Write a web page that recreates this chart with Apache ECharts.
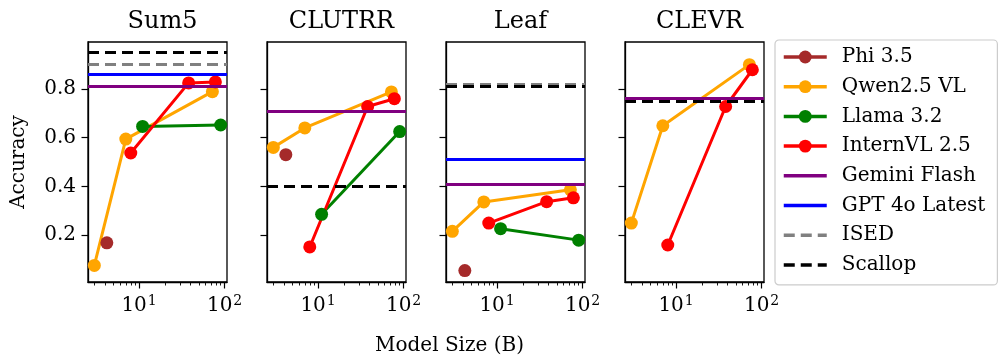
<!DOCTYPE html>
<html><head><meta charset="utf-8">
<script src="https://cdn.jsdelivr.net/npm/echarts@6/dist/echarts.min.js"></script>
<style>html,body{margin:0;padding:0;background:#fff}#c{width:1000px;height:364px}</style>
</head><body><div id="c"></div>
<script>
// ---- data ----
const PANELS = ['Sum5', 'CLUTRR', 'Leaf', 'CLEVR'];
const MODEL_NAMES = ['Phi 3.5', 'Qwen2.5 VL', 'Llama 3.2', 'InternVL 2.5'];
const REF_NAMES = ['Gemini Flash', 'GPT 4o Latest', 'ISED', 'Scallop'];
// model sizes (B)
const SIZE_PHI = [4.2];
const SIZE_QWEN = [3, 7, 72];
const SIZE_LLAMA = [11, 90];
const SIZE_INTERN = [8, 38, 78];
// accuracies per panel (Sum5, CLUTRR, Leaf, CLEVR)
const ACC_PHI = [[0.168], [0.530], [0.054], []];
const ACC_QWEN = [[0.075, 0.594, 0.789], [0.560, 0.640, 0.788], [0.215, 0.336, 0.386], [0.249, 0.649, 0.900]];
const ACC_LLAMA = [[0.646, 0.652], [0.285, 0.625], [0.226, 0.179], []];
const ACC_INTERN = [[0.537, 0.825, 0.829], [0.151, 0.728, 0.760], [0.249, 0.337, 0.353], [0.159, 0.728, 0.879]];
// horizontal reference accuracies
const ACC_GEMINI = [0.812, 0.711, 0.405, 0.763];
const ACC_GPT = [0.859, null, 0.508, null];
const ACC_ISED = [0.900, null, 0.822, null];
const ACC_SCALLOP = [0.950, 0.401, 0.809, 0.752];
// ticks
const X_MAJOR_TICKS = [10, 100];
const X_MINOR_TICKS = [3, 4, 5, 6, 7, 8, 9, 20, 30, 40, 50, 60, 70, 80, 90];
const Y_TICKS = [0.2, 0.4, 0.6, 0.8];

// ---- styling / layout ----
const FONT = 'DejaVu Serif';
const COLORS = {
  'Phi 3.5': '#a52a2a', 'Qwen2.5 VL': '#ffa500', 'Llama 3.2': '#008000', 'InternVL 2.5': '#ff0000',
  'Gemini Flash': '#800080', 'GPT 4o Latest': '#0000ff', 'ISED': '#808080', 'Scallop': '#000000'
};
const DASH = [11, 6];
const GRID_LEFTS = [88, 267, 446, 625];
const GRID_W = 139, GRID_TOP = 42, GRID_H = 240;
const XMIN = 2.53, XMAX = 106.7, YMIN = 0.007, YMAX = 0.993;
const LW = 3, MS = 13;

const grids = [], xAxes = [], yAxes = [], series = [], titles = [];
PANELS.forEach((p, i) => {
  grids.push({ left: GRID_LEFTS[i], top: GRID_TOP, width: GRID_W, height: GRID_H, show: true,
    borderColor: '#000', borderWidth: 1.3, backgroundColor: 'transparent' });
  titles.push({ text: p, left: GRID_LEFTS[i] + GRID_W / 2, top: 5, textAlign: 'center',
    textStyle: { fontFamily: FONT, fontSize: 24, fontWeight: 'normal', color: '#000' } });
});
PANELS.forEach((p, i) => {
  xAxes.push({ type: 'log', logBase: 10, gridIndex: i, min: XMIN, max: XMAX, position: 'bottom',
    axisLine: { show: true, lineStyle: { color: '#000', width: 1.3 } },
    splitLine: { show: false },
    axisTick: { show: true, length: 6.5, inside: false, customValues: X_MAJOR_TICKS, lineStyle: { color: '#000', width: 1.2 } },
    axisLabel: { show: true, customValues: X_MAJOR_TICKS, margin: 12, color: '#000', fontFamily: FONT, fontSize: 20,
      formatter: v => '10{sup|' + Math.round(Math.log10(v)) + '}',
      rich: { sup: { fontSize: 14, fontFamily: FONT, color: '#000', verticalAlign: 'top', padding: [0, 0, 10, 1] } } }
  });
});
PANELS.forEach((p, i) => {
  xAxes.push({ type: 'log', logBase: 10, gridIndex: i, min: XMIN, max: XMAX, position: 'bottom',
    axisLine: { show: false }, splitLine: { show: false }, axisLabel: { show: false },
    axisTick: { show: true, length: 3.5, customValues: X_MINOR_TICKS, lineStyle: { color: '#000', width: 0.9 } } });
});
PANELS.forEach((p, i) => {
  yAxes.push({ type: 'value', gridIndex: i, min: YMIN, max: YMAX,
    name: i === 0 ? 'Accuracy' : '', nameLocation: 'middle', nameGap: 59, nameRotate: 90,
    nameTextStyle: { fontFamily: FONT, fontSize: 20, color: '#000' },
    axisLine: { show: true, lineStyle: { color: '#000', width: 1.3 } },
    splitLine: { show: false },
    axisTick: { show: true, length: 6.5, customValues: Y_TICKS, lineStyle: { color: '#000', width: 1.2 } },
    axisLabel: { show: i === 0, customValues: Y_TICKS, margin: 12, color: '#000', fontFamily: FONT, fontSize: 20,
      formatter: v => v.toFixed(1) } });
});

function modelSeries(name, sizes, acc, i) {
  if (!acc.length) return;
  series.push({ type: 'line', name, xAxisIndex: i, yAxisIndex: i,
    data: sizes.map((s, k) => [s, acc[k]]),
    symbol: 'circle', symbolSize: MS, showSymbol: true,
    lineStyle: { color: COLORS[name], width: LW }, itemStyle: { color: COLORS[name] },
    z: 3, animation: false });
}
function refSeries(name, val, dashed, i) {
  if (val === null) return;
  const ls = { color: COLORS[name], width: LW, type: dashed ? DASH : 'solid' };
  series.push({ type: 'line', name, xAxisIndex: i, yAxisIndex: i, data: [],
    symbol: 'none', lineStyle: ls, itemStyle: { color: COLORS[name] }, z: 2, animation: false,
    markLine: { silent: true, symbol: ['none', 'none'], label: { show: false }, animation: false,
      lineStyle: ls, emphasis: { disabled: true }, data: [{ yAxis: val }] } });
}
PANELS.forEach((p, i) => {
  refSeries('Gemini Flash', ACC_GEMINI[i], false, i);
  refSeries('GPT 4o Latest', ACC_GPT[i], false, i);
  refSeries('ISED', ACC_ISED[i], true, i);
  refSeries('Scallop', ACC_SCALLOP[i], true, i);
  modelSeries('Phi 3.5', SIZE_PHI, ACC_PHI[i], i);
  modelSeries('Qwen2.5 VL', SIZE_QWEN, ACC_QWEN[i], i);
  modelSeries('Llama 3.2', SIZE_LLAMA, ACC_LLAMA[i], i);
  modelSeries('InternVL 2.5', SIZE_INTERN, ACC_INTERN[i], i);
});

const legendData = MODEL_NAMES.map(n => ({ name: n })).concat(
  REF_NAMES.map(n => ({ name: n, itemStyle: { color: 'rgba(0,0,0,0)', borderColor: 'rgba(0,0,0,0)', borderWidth: 0 } })));

const option = {
  backgroundColor: '#fff',
  animation: false,
  title: titles,
  grid: grids, xAxis: xAxes, yAxis: yAxes, series,
  legend: {
    orient: 'vertical', left: 775, top: 40,
    data: legendData,
    itemWidth: 43, itemHeight: 16, itemGap: 9.7,
    padding: [7, 12, 10, 7],
    backgroundColor: '#fff', borderColor: '#cccccc', borderWidth: 1.2, borderRadius: 4,
    selectedMode: false,
    lineStyle: { width: 3.5 },
    textStyle: { fontFamily: FONT, fontSize: 20, color: '#000', lineHeight: 20, padding: [0, 0, 0, 10] }
  },
  graphic: [{ type: 'text', left: 450 - 75, top: 336,
    style: { text: 'Model Size (B)', fontFamily: FONT, fontSize: 20, fill: '#000' } }]
};
const chart = echarts.init(document.getElementById('c'), null, { renderer: 'canvas' });
chart.setOption(option);
</script></body></html>
